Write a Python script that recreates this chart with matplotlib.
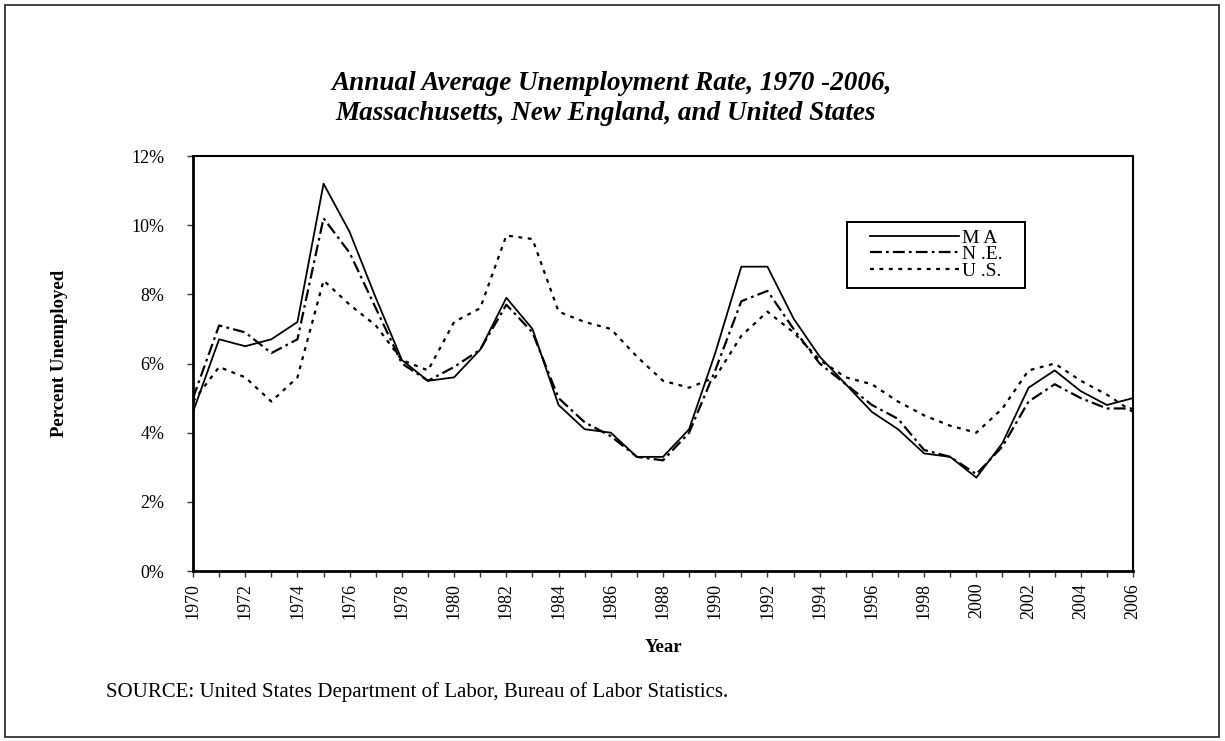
import matplotlib
matplotlib.use("Agg")
import matplotlib.pyplot as plt
from matplotlib.patches import Rectangle
from matplotlib.lines import Line2D

years = list(range(1970, 2007))
ma = [4.6, 6.7, 6.5, 6.7, 7.2, 11.2, 9.8, 7.9, 6.1, 5.5, 5.6, 6.4, 7.9, 7.0,
      4.8, 4.1, 4.0, 3.3, 3.3, 4.1, 6.3, 8.8, 8.8, 7.3, 6.2, 5.4, 4.6, 4.1,
      3.4, 3.3, 2.7, 3.7, 5.3, 5.8, 5.2, 4.8, 5.0]
ne = [5.0, 7.1, 6.9, 6.3, 6.7, 10.2, 9.2, 7.6, 6.0, 5.5, 5.9, 6.4, 7.7, 6.9,
      5.0, 4.3, 3.9, 3.3, 3.2, 4.0, 5.8, 7.8, 8.1, 7.0, 6.0, 5.4, 4.8, 4.4,
      3.5, 3.3, 2.8, 3.6, 4.9, 5.4, 5.0, 4.7, 4.7]
us = [4.9, 5.9, 5.6, 4.9, 5.6, 8.4, 7.7, 7.1, 6.1, 5.8, 7.2, 7.6, 9.7, 9.6,
      7.5, 7.2, 7.0, 6.2, 5.5, 5.3, 5.6, 6.8, 7.5, 6.9, 6.1, 5.6, 5.4, 4.9,
      4.5, 4.2, 4.0, 4.7, 5.8, 6.0, 5.5, 5.1, 4.6]
series_names = ["M A", "N .E.", "U .S."]
yticks = [0, 2, 4, 6, 8, 10, 12]
ytick_labels = ["0%", "2%", "4%", "6%", "8%", "10%", "12%"]
xtick_labels = [str(y) for y in range(1970, 2007, 2)]

title1 = "Annual Average Unemployment Rate, 1970 -2006,"
title2 = "Massachusetts, New England, and United States"
ylabel = "Percent Unemployed"
xlabel = "Year"
source = "SOURCE: United States Department of Labor, Bureau of Labor Statistics."

plt.rcParams['font.family'] = ['Liberation Serif', 'DejaVu Serif']
plt.rcParams['lines.scale_dashes'] = False

W, H = 1225, 741
fig = plt.figure(figsize=(W/100, H/100), dpi=100)
fig.patch.set_facecolor('white')
fig.patches.append(Rectangle((0.004, 0.005), 0.991, 0.988, transform=fig.transFigure,
                             fill=False, edgecolor='#333333', linewidth=1.3))

ax = fig.add_axes([193/W, 1-571/H, (1133-193)/W, (571-156)/H])

ls_ne = (0, (8.5, 3.0, 2.0, 3.0))
ls_us = (0, (2.8, 4.0))
ax.plot(years, ma, color='black', linewidth=1.3, linestyle='-')
ax.plot(years, ne, color='black', linewidth=1.6, linestyle=ls_ne)
ax.plot(years, us, color='black', linewidth=1.6, linestyle=ls_us)

ax.set_xlim(1970, 2006)
ax.set_ylim(0, 12)
ax.set_yticks(yticks)
ax.set_yticklabels(ytick_labels, fontsize=13)
ax.set_xticks(years, minor=True)
ax.set_xticks(list(range(1970, 2007, 2)))
ax.set_xticklabels(xtick_labels, rotation=90, fontsize=13)
ax.tick_params(axis='both', which='both', direction='out', length=4.5, width=1, color='#333333')
ax.tick_params(axis='x', which='major', pad=4)
ax.tick_params(axis='y', pad=16)
for side in ['left', 'bottom']:
    ax.spines[side].set_linewidth(2.0)
for side in ['top', 'right']:
    ax.spines[side].set_linewidth(1.5)

fig.text(612/W, 1-83/H, title1, ha='center', va='center', fontsize=19.5,
         fontweight='bold', style='italic')
fig.text(606/W, 1-113/H, title2, ha='center', va='center', fontsize=19.5,
         fontweight='bold', style='italic')
fig.text(60/W, 1-353/H, ylabel, rotation=90, ha='center', va='center',
         fontsize=13.5, fontweight='bold')
fig.text(663/W, 1-648/H, xlabel, ha='center', va='center', fontsize=13.5,
         fontweight='bold')
fig.text(106/W, 1-692/H, source, ha='left', va='center', fontsize=15)

# legend box drawn in axes coordinates
bx0, bx1, by0, by1 = 847, 1025, 222, 288
ax.add_patch(Rectangle(((bx0-193)/940, (571-by1)/415), (bx1-bx0)/940, (by1-by0)/415,
                       transform=ax.transAxes, fill=True, facecolor='white',
                       edgecolor='black', linewidth=1.4, zorder=4))
handles = [Line2D([], [], color='black', linewidth=1.3, linestyle='-'),
           Line2D([], [], color='black', linewidth=1.6, linestyle=ls_ne),
           Line2D([], [], color='black', linewidth=1.6, linestyle=ls_us)]
leg = ax.legend(handles, series_names, loc='upper left',
                bbox_to_anchor=((870-193)/940, (571-229)/415),
                frameon=False, fontsize=14,
                handlelength=4.6, handletextpad=0.15, labelspacing=-0.05,
                borderpad=0.0, borderaxespad=0.0)
leg.set_zorder(5)

fig.savefig('out.png', dpi=100, facecolor='white')
